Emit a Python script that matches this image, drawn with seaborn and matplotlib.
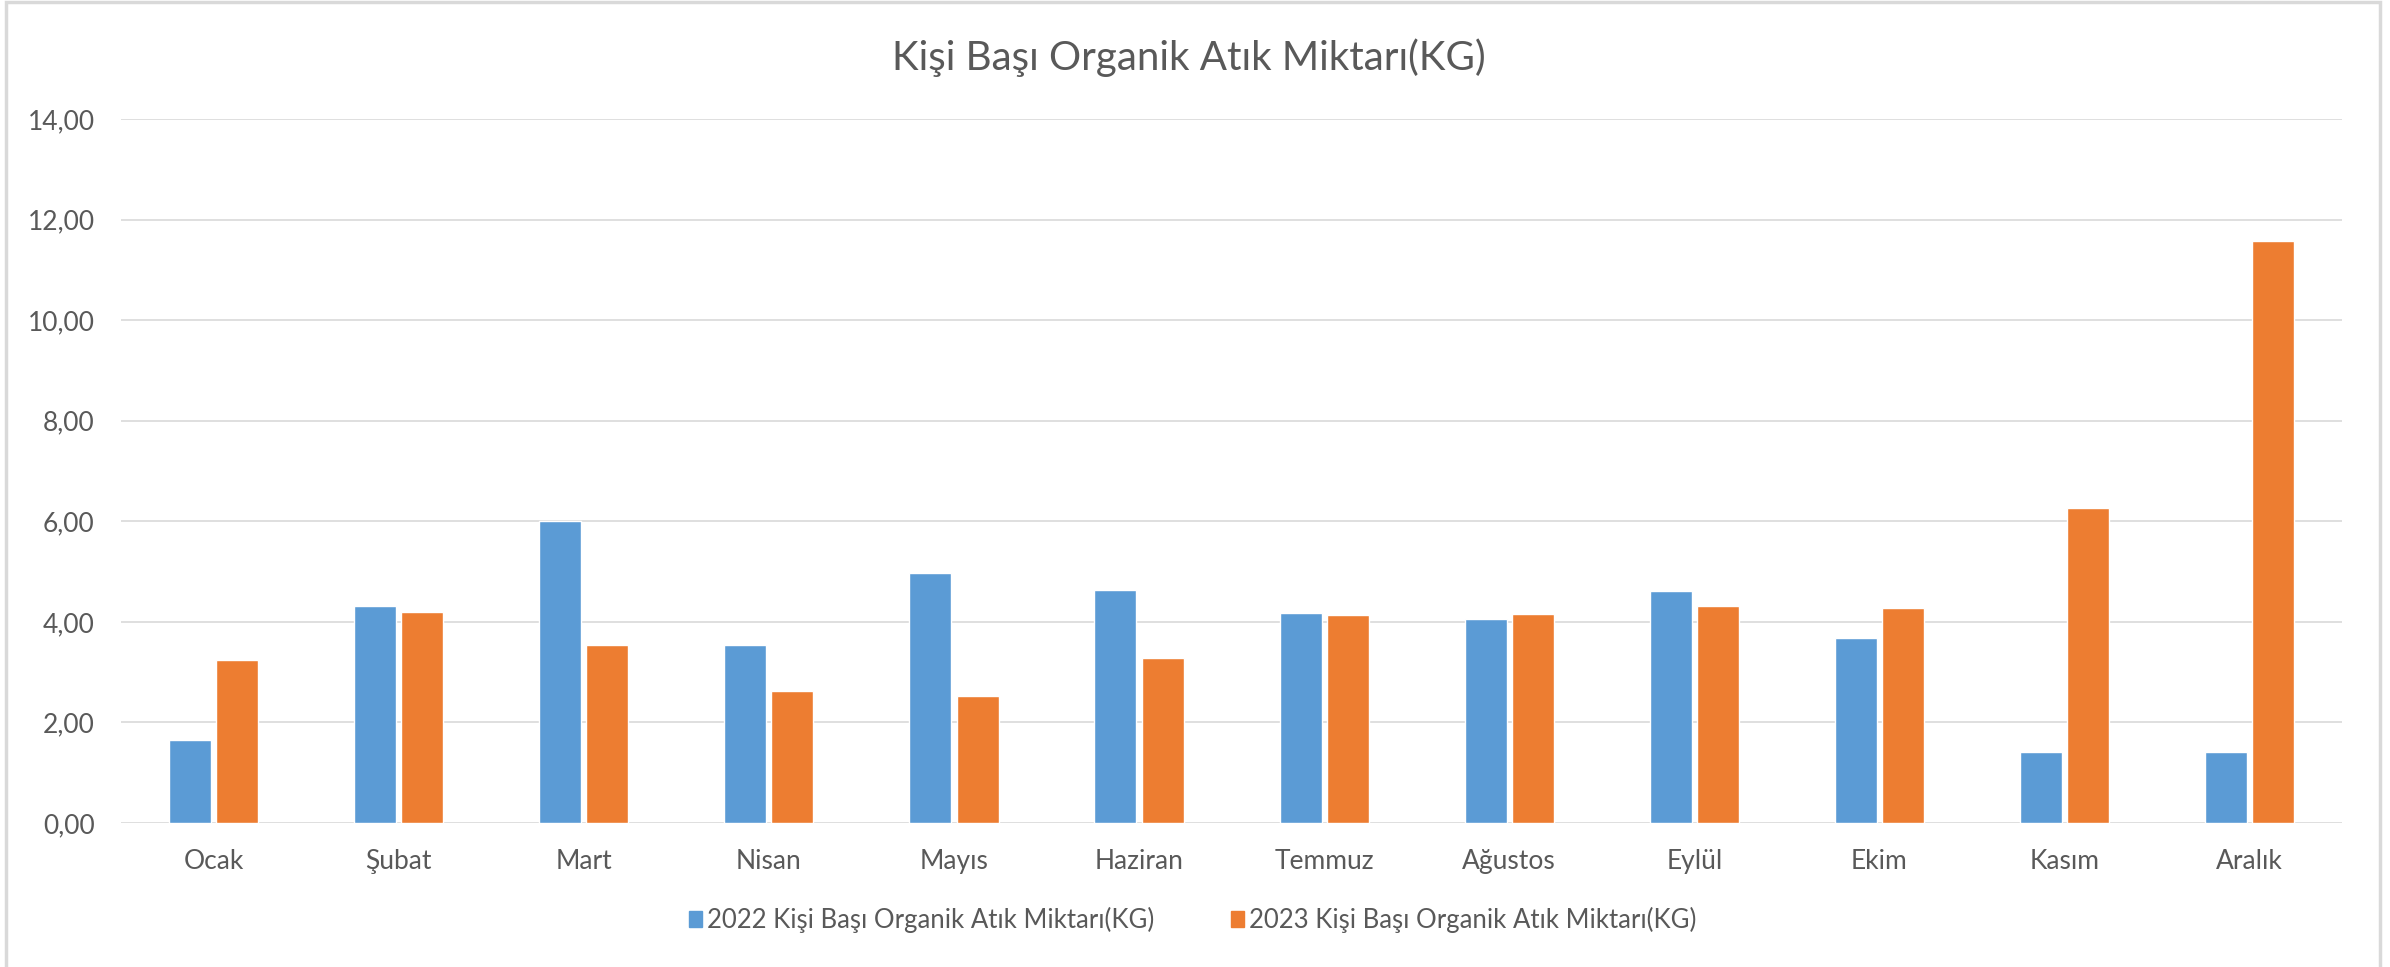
import matplotlib
matplotlib.use("Agg")
import matplotlib.pyplot as plt
import matplotlib.patches as mpatches
import seaborn as sns
import pandas as pd

months = ["Ocak", "Şubat", "Mart", "Nisan", "Mayıs", "Haziran",
          "Temmuz", "Ağustos", "Eylül", "Ekim", "Kasım", "Aralık"]
values_2022 = [1.65, 4.31, 6.00, 3.53, 4.97, 4.64, 4.18, 4.06, 4.61, 3.67, 1.41, 1.41]
values_2023 = [3.25, 4.19, 3.53, 2.62, 2.53, 3.29, 4.13, 4.15, 4.31, 4.28, 6.27, 11.57]
series_names = ["2022 Kişi Başı Organik Atık Miktarı(KG)",
                "2023 Kişi Başı Organik Atık Miktarı(KG)"]
title_text = "Kişi Başı Organik Atık Miktarı(KG)"
y_ticks = [0, 2, 4, 6, 8, 10, 12, 14]

colors = ["#5B9BD5", "#ED7D31"]
text_color = "#595959"
grid_color = "#D9D9D9"

df = pd.DataFrame({
    "Ay": months * 2,
    "Seri": [series_names[0]] * len(months) + [series_names[1]] * len(months),
    "Değer": values_2022 + values_2023,
})

sns.set_theme(style="white")
plt.rcParams["font.family"] = ["Lato", "DejaVu Sans"]

fig = plt.figure(figsize=(23.9, 9.67), dpi=100)
ax = fig.add_axes([0.0506, 0.1489, 0.9294, 0.7281])

sns.barplot(data=df, x="Ay", y="Değer", hue="Seri", order=months,
            hue_order=series_names, palette=colors, width=0.51, gap=0.11,
            saturation=1, ax=ax, legend=True, zorder=3)

ax.set_ylim(0, 14)
ax.set_xlim(-0.5, len(months) - 0.5)
ax.set_yticks(y_ticks)
ax.set_yticklabels([f"{v:.2f}".replace(".", ",") for v in y_ticks])
ax.yaxis.grid(True, color=grid_color, linewidth=1.2, zorder=0)
ax.set_axisbelow(True)
for side in ["top", "right", "left", "bottom"]:
    ax.spines[side].set_visible(False)
ax.tick_params(axis="both", length=0, colors=text_color, labelsize=19)
ax.tick_params(axis="x", pad=19)
ax.tick_params(axis="y", pad=19)
ax.set_xlabel("")
ax.set_ylabel("")

handles = [mpatches.Patch(color=c) for c in colors]
ax.legend_.remove()
fig.legend(handles, series_names, loc="center", bbox_to_anchor=(0.499, 0.0486),
           ncol=2, frameon=False, fontsize=18.5, labelcolor=text_color,
           handlelength=0.5, handleheight=0.55, handletextpad=0.2,
           columnspacing=3.0)

fig.text(0.4975, 0.94, title_text, ha="center", va="center",
         fontsize=29, color=text_color)

# light chart-area border
fig.patches.append(mpatches.Rectangle((0.0025, -0.05), 0.9935, 1.048,
                                      transform=fig.transFigure, fill=False,
                                      edgecolor=grid_color, linewidth=2.5))

fig.savefig("out.png", dpi=100, facecolor="white")
